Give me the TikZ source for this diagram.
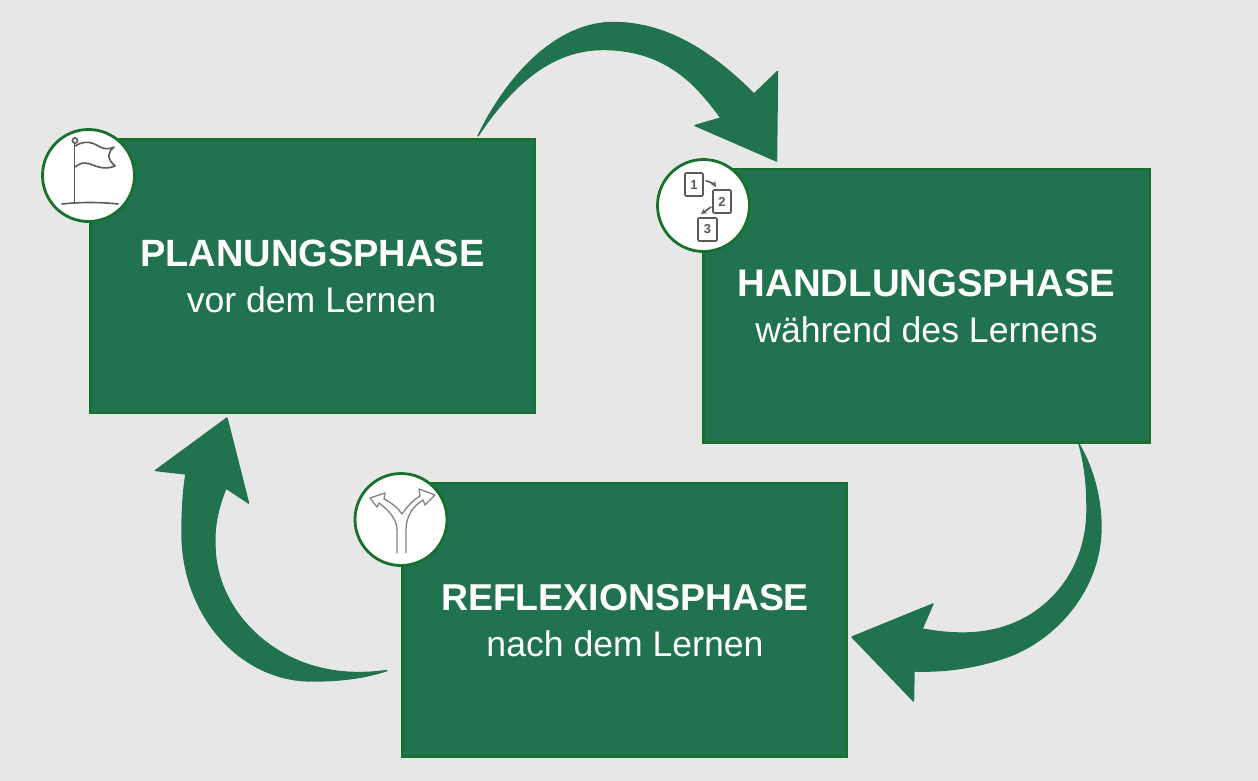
\documentclass[tikz,border=0pt]{standalone}
\usepackage{fontspec}
\setmainfont{Liberation Sans}
\definecolor{bg}{HTML}{E7E7E7}
\definecolor{gr}{HTML}{217350}
\definecolor{edge}{HTML}{17702B}
\definecolor{ic}{HTML}{5A5A5A}
\tikzset{
 phase/.style={draw=edge,line width=2.2pt,fill=gr,minimum width=444.5pt,minimum height=273.5pt,anchor=north west,inner sep=0pt,outer sep=0pt},
 badge/.style={circle,draw=edge,line width=2.8pt,fill=white,minimum size=92pt,inner sep=0pt,outer sep=0pt},
 title/.style={text=white,font=\fontsize{38}{40}\selectfont\bfseries,inner sep=0pt},
 sub/.style={text=white,font=\fontsize{35.6}{38}\selectfont,inner sep=0pt},
 arr/.style={fill=gr,draw=gr,line width=1.4pt,line join=round},
 icon/.style={draw=ic,line width=1.6pt,line cap=round,line join=round,fill=none},
 num/.style={text=ic,font=\fontsize{13}{13}\selectfont\bfseries,inner sep=0pt}
}
\begin{document}
\begin{tikzpicture}[x=1pt,y=-1pt]
\useasboundingbox (0,0) rectangle (1258,781);
\fill[bg] (0,0) rectangle (1258,781);
% arrows
\path[arr] (478,136) .. controls (510,70) and (560,22.5) .. (613,22.5) .. controls (665,22.5) and (710,50) .. (754,94) -- (777.5,71.5) -- (776.5,161) -- (695,125.5) -- (721,118) .. controls (700,90) and (670,49.5) .. (603,49.5) .. controls (555,49.5) and (515,80) .. (478,136) -- cycle;
\path[arr] (1079,444) .. controls (1094,470) and (1101,500) .. (1101,527) .. controls (1101,590) and (1055,640) .. (1007,657) .. controls (975,668) and (945,672) .. (914,671) -- (913.5,701) -- (852,637) -- (933,604) -- (922,629) .. controls (960,636) and (995,635) .. (1027,617) .. controls (1065,595) and (1087,555) .. (1087,510) .. controls (1087,485) and (1085,465) .. (1079,444) -- cycle;
\path[arr] (387,670.5) .. controls (362,679) and (335,681) .. (312,681) .. controls (240,681) and (182,615) .. (182,533) .. controls (182,512) and (183,492) .. (186,474) -- (155.5,470.5) -- (227,418) -- (248.5,503) -- (226,488) .. controls (219,505) and (214,525) .. (215,543) .. controls (214,600) and (258,652) .. (318,667.5) .. controls (340,673) and (362,674) .. (387,670.5) -- cycle;
% boxes
\node[phase] (plan) at (90.5,139.5) {};
\node[phase,minimum width=446.5pt] (hand) at (703.5,169) {};
\node[phase] (refl) at (402.5,483) {};
\node[title,anchor=base] (t1) at (312.5,266) {PLANUNGSPHASE};
\node[sub,anchor=base] (s1) at (311.5,312) {vor dem Lernen};
\node[title,anchor=base,font=\fontsize{38.4}{40}\selectfont\bfseries] (t2) at (926.5,296) {HANDLUNGSPHASE};
\node[sub,anchor=base] (s2) at (926.5,342) {während des Lernens};
\node[title,anchor=base,font=\fontsize{37.4}{40}\selectfont\bfseries] (t3) at (625,610) {REFLEXIONSPHASE};
\node[sub,anchor=base] (s3) at (625,656) {nach dem Lernen};
\node[badge] (b1) at (88.5,175.5) {};
\node[badge] (b2) at (703.5,205.5) {};
\node[badge] (b3) at (401,519.5) {};
% flag icon
\draw[icon] (74.5,143) -- (74.5,203);
\draw[icon] (75,140.5) circle (2.6);
\draw[icon] (62,204) .. controls (80,202) and (100,202) .. (118,204);
\draw[icon] (75,146) .. controls (85,140) and (92,142) .. (100,147) .. controls (105,149.5) and (110,149) .. (114,147) .. controls (108,152) and (106,158) .. (115,166) .. controls (105,170) and (98,167) .. (90,164) .. controls (84,162) and (80,163) .. (75,167);
% documents icon
\draw[icon,rounded corners=1pt] (685,173) rectangle (703,196);
\draw[icon,rounded corners=1pt] (713,190) rectangle (731,213);
\draw[icon,rounded corners=1pt] (698,218) rectangle (717,241);
\node[num] (n1) at (694,185) {1};
\node[num] (n2) at (722,202) {2};
\node[num] (n3) at (707.5,229.5) {3};
\draw[icon,-stealth] (706,181) .. controls (711,182) and (714,184) .. (716,187);
\draw[icon,-stealth] (711,207) -- (701,214);
% fork icon
\draw[icon,draw=ic!75,line width=1.3pt] (397,553) -- (397,530) .. controls (397,520) and (390,511) .. (379,503) -- (377,507) -- (370,498) -- (385,493) -- (384,499) .. controls (392,503) and (398,508) .. (402,514) .. controls (407,507) and (413,500) .. (420,496) -- (419,489) -- (435,495) -- (425,505) -- (423,500) .. controls (412,507) and (406,517) .. (406,530) -- (406,553);
\end{tikzpicture}
\end{document}
